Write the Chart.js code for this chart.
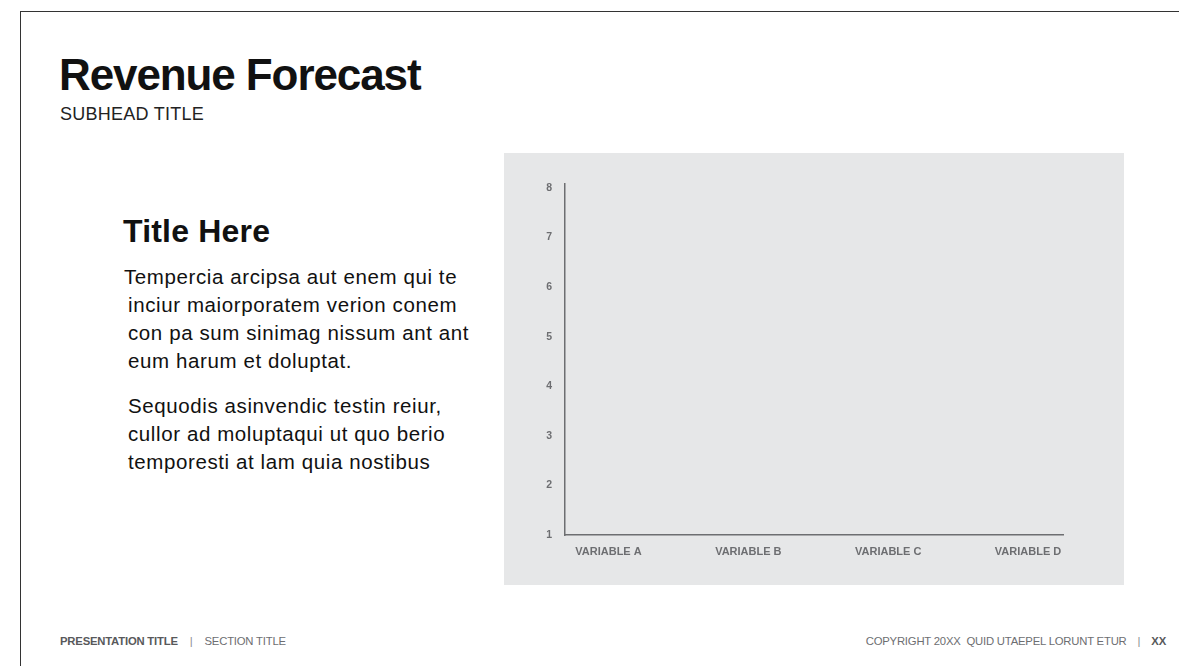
<!DOCTYPE html>
<html>
<head>
<meta charset="utf-8">
<script src="https://cdn.jsdelivr.net/npm/chart.js@4/dist/chart.umd.min.js"></script>
<style>
  html, body { margin: 0; padding: 0; background: #fff; }
  body { width: 1179px; height: 666px; position: relative; overflow: hidden; font-family: "Liberation Sans", Arial, sans-serif; color: #111; }
  .frame { position: absolute; left: 20px; top: 11px; width: 1200px; height: 700px; border-left: 1.5px solid #333; border-top: 1.5px solid #333; }
  .title { position: absolute; left: 59px; top: 50px; font-size: 44px; font-weight: bold; letter-spacing: -1.1px; }
  .subhead { position: absolute; left: 60px; top: 104px; font-size: 18px; color: #222; letter-spacing: 0.25px; }
  .side-title { position: absolute; left: 123px; top: 213px; font-size: 32px; font-weight: bold; letter-spacing: 0.2px; }
  .body-text { position: absolute; left: 128px; top: 263px; width: 380px; font-size: 20.5px; line-height: 28px; letter-spacing: 0.6px; color: #111; white-space: nowrap; }
  .body-text p { margin: 0 0 17px 0; }
  .body-text .first { margin-left: -4px; }
  .panel { position: absolute; left: 504px; top: 153px; width: 620px; height: 432px; background: #e6e7e8; }
  .footer { position: absolute; top: 635px; font-size: 11.3px; color: #6d6e71; letter-spacing: -0.2px; }
  .footer b { color: #58595b; }
  .sep { margin: 0 12px; color: #8a8b8d; }
</style>
</head>
<body>
<div class="frame"></div>
<div class="title">Revenue Forecast</div>
<div class="subhead">SUBHEAD TITLE</div>
<div class="side-title">Title Here</div>
<div class="body-text">
  <p><span class="first">Tempercia arcipsa aut enem qui te</span><br>inciur maiorporatem verion conem<br>con pa sum sinimag nissum ant ant<br>eum harum et doluptat.</p>
  <p>Sequodis asinvendic testin reiur,<br>cullor ad moluptaqui ut quo berio<br>temporesti at lam quia nostibus</p>
</div>
<div class="panel"><canvas id="revenueChart" width="620" height="432"></canvas></div>
<div class="footer" style="left:60px;"><b>PRESENTATION TITLE</b><span class="sep">|</span>SECTION TITLE</div>
<div class="footer" style="right:13px;">COPYRIGHT 20XX&nbsp; QUID UTAEPEL LORUNT ETUR<span class="sep" style="margin:0 11px;">|</span><b>XX</b></div>

<script>
const categories = ["VARIABLE A", "VARIABLE B", "VARIABLE C", "VARIABLE D"];
const seriesValues = [null, null, null, null];
const yTicks = [1, 2, 3, 4, 5, 6, 7, 8];

document.addEventListener("DOMContentLoaded", () => {
  const ctx = document.getElementById("revenueChart").getContext("2d");
  const axisGray = "#6d6e71";
  new Chart(ctx, {
    type: "bar",
    data: {
      datasets: [
        {
          label: "Revenue",
          data: categories.map((c, i) => ({ x: i, y: seriesValues[i] })),
          backgroundColor: "#4a4a4a",
        },
      ],
    },
    options: {
      responsive: false,
      animation: false,
      layout: { padding: { top: 31, right: 61, left: 0, bottom: 0 } },
      plugins: { legend: { display: false }, tooltip: { enabled: false } },
      scales: {
        x: {
          type: "linear",
          offset: false,
          min: -0.311,
          max: 3.25,
          afterBuildTicks: (scale) => {
            scale.ticks = categories.map((c, i) => ({ value: i }));
          },
          afterFit: (scale) => { scale.height = 50; },
          grid: { display: false, drawTicks: false },
          border: { display: true, color: axisGray, width: 1.5 },
          ticks: {
            callback: (v) => categories[v],
            color: axisGray,
            padding: 10,
            maxRotation: 0,
            autoSkip: false,
            font: { family: "Liberation Sans", size: 11, weight: "bold" },
          },
        },
        y: {
          min: 1,
          max: 8.08,
          afterBuildTicks: (scale) => {
            scale.ticks = yTicks.map((v) => ({ value: v }));
          },
          afterFit: (scale) => { scale.width = 61; },
          grid: { display: false, drawTicks: false },
          border: { display: true, color: axisGray, width: 1.5 },
          ticks: {
            color: axisGray,
            padding: 13,
            font: { family: "Liberation Sans", size: 10.5, weight: "bold" },
          },
        },
      },
    },
  });
});
</script>
</body>
</html>
